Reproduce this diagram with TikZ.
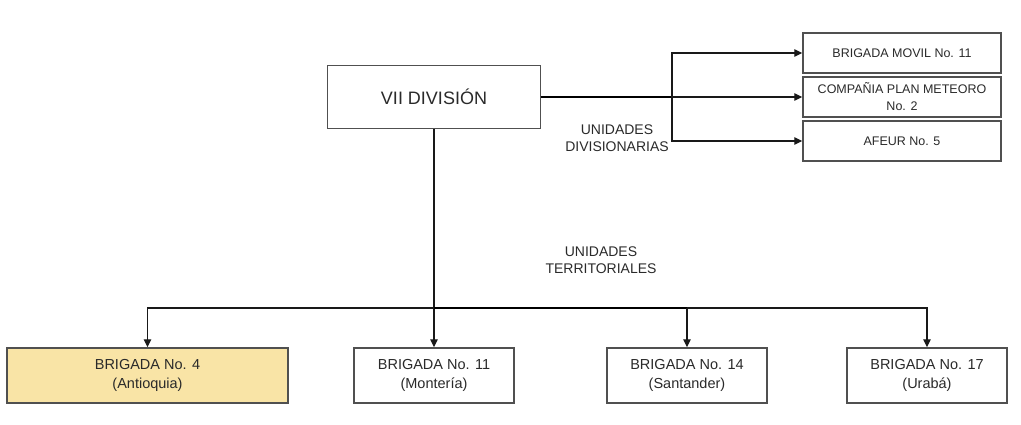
\documentclass[tikz,border=0pt]{standalone}
\usepackage{fontspec}
\setmainfont{Liberation Sans}
\usetikzlibrary{arrows.meta}
\definecolor{boxline}{HTML}{505050}
\definecolor{txt}{HTML}{2A2A2A}
\definecolor{hilite}{HTML}{F9E4A6}
\tikzset{
  unit/.style={draw=boxline, line width=1.4pt, fill=white, text=txt, align=center,
    inner sep=0pt, minimum width=#1, font=\fontsize{14.5}{19}\selectfont},
  unit/.default=160pt,
  sidebox/.style={draw=boxline, line width=1.4pt, fill=white, text=txt, align=center,
    inner sep=0pt, minimum width=198pt, minimum height=40pt, font=\fontsize{12.5}{17}\selectfont},
  conn/.style={draw=black!90, line width=1.3pt},
  heavy/.style={draw=black, line width=2pt},
  tip/.style={-{Triangle[length=8pt,width=7.5pt]}},
  caption/.style={text=txt, align=center, font=\fontsize{14}{17}\selectfont}
}
\begin{document}
\begin{tikzpicture}[x=1pt,y=-1pt]
\useasboundingbox (0,0) rectangle (1021,425);

% headquarters
\node[draw=boxline, line width=1.4pt, fill=white, text=txt, inner sep=0pt,
      minimum width=213pt, minimum height=63pt, font=\fontsize{18}{22}\selectfont]
      (div) at (434,97) {VII DIVISIÓN};

% divisional units
\node[sidebox] (movil) at (902,53) {BRIGADA MOVIL No. 11};
\node[sidebox] (meteoro) at (902,97) {COMPAÑIA PLAN METEORO\\No. 2};
\node[sidebox] (afeur) at (902,141) {AFEUR No. 5};

% territorial units
\node[unit=281pt, minimum height=55pt, fill=hilite] (b4) at (147.5,375.5) {BRIGADA No. 4\\(Antioquia)};
\node[unit, minimum height=55pt] (b11) at (434,375.5) {BRIGADA No. 11\\(Montería)};
\node[unit, minimum height=55pt] (b14) at (687,375.5) {BRIGADA No. 14\\(Santander)};
\node[unit, minimum height=55pt] (b17) at (927,375.5) {BRIGADA No. 17\\(Urabá)};

% captions
\node[caption] (capdiv) at (617,138) {UNIDADES\\DIVISIONARIAS};
\node[caption] (capter) at (601,260) {UNIDADES\\TERRITORIALES};

% junctions
\coordinate (jr) at (672,97);
\coordinate (jb) at (434,308);
\coordinate (jb3) at (687,308);

% divisional branch
\draw[heavy] (div.east) -- (jr);
\draw[conn,tip] (jr) -- (meteoro.west);
\draw[conn,tip] (jr) |- (movil.west);
\draw[conn,tip] (jr) |- (afeur.west);

% territorial branch
\draw[conn,tip] (div.south) -- (b11.north);
\draw[heavy] (jb) -- (jb3);
\draw[conn,tip] (jb3) -- (b14.north);
\draw[conn,tip] (jb) -| (b4.north);
\draw[conn,tip] (jb3) -| (b17.north);
\end{tikzpicture}
\end{document}
